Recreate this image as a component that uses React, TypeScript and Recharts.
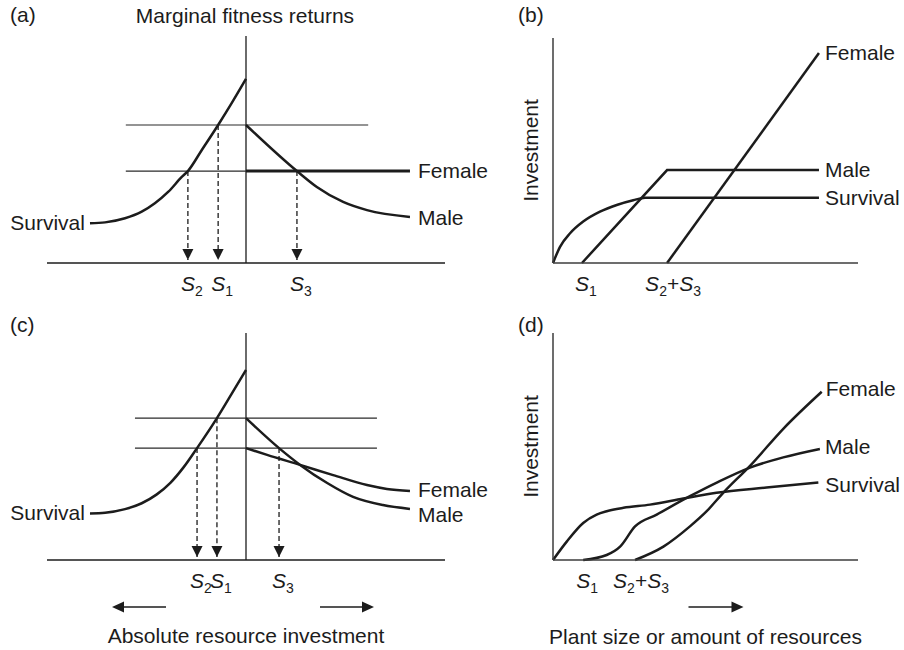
import React from 'react'
import { LineChart, Line, XAxis, YAxis, ReferenceLine } from 'recharts'

type Pt = { x: number; y: number }

const INK = '#1c1c1c'
const AXIS = '#3c3c3c'
const FONT = '"Liberation Sans", Arial, Helvetica, sans-serif'

// (a) marginal fitness returns, female returns constant
const aSurvival: Pt[] = [
  { x: 10.8, y: 17.5 }, { x: 14.6, y: 17.9 }, { x: 19.6, y: 19.7 }, { x: 23.8, y: 22.6 },
  { x: 27.1, y: 26.3 }, { x: 30.5, y: 31.4 }, { x: 33.8, y: 37.8 }, { x: 35.4, y: 40.5 },
  { x: 38.9, y: 49.8 }, { x: 43.0, y: 60.8 }, { x: 46.4, y: 70.4 }, { x: 50, y: 81.1 },
]
const aMale: Pt[] = [
  { x: 50, y: 60.8 }, { x: 62.8, y: 40.5 }, { x: 67.8, y: 33.5 }, { x: 74.4, y: 26.9 },
  { x: 80.4, y: 23.3 }, { x: 91.2, y: 20.3 },
]
const aFemale: Pt[] = [{ x: 50, y: 40.5 }, { x: 91.2, y: 40.5 }]
const aUpper: Pt[] = [{ x: 19.8, y: 60.8 }, { x: 80.7, y: 60.8 }]
const aLower: Pt[] = [{ x: 19.8, y: 40.5 }, { x: 80.7, y: 40.5 }]
const aDropS2: Pt[] = [{ x: 35.4, y: 40.5 }, { x: 35.4, y: 1.3 }]
const aDropS1: Pt[] = [{ x: 43.0, y: 60.8 }, { x: 43.0, y: 1.3 }]
const aDropS3: Pt[] = [{ x: 62.8, y: 40.5 }, { x: 62.8, y: 1.3 }]
const aTicks = [35.4, 43.0, 62.8]
const aTickLabels = ['S_2', 'S_1', 'S_3']

// (b) investment against plant size, linear case
const bSurvival: Pt[] = [
  { x: 0, y: 0 }, { x: 2.3, y: 7.2 }, { x: 5.6, y: 13.2 }, { x: 9.9, y: 18.4 },
  { x: 15.4, y: 22.8 }, { x: 20.9, y: 25.8 }, { x: 26.3, y: 27.9 }, { x: 30.2, y: 29.0 },
  { x: 87.2, y: 29.0 },
]
const bMale: Pt[] = [{ x: 9.5, y: 0 }, { x: 37.4, y: 41.3 }, { x: 87.2, y: 41.3 }]
const bFemale: Pt[] = [{ x: 37.4, y: 0 }, { x: 87.2, y: 93.3 }]
const bTicks = [9.5, 37.4]
const bTickLabels = ['S_1', 'S_2+S_3']

// (c) marginal fitness returns, both sexes decelerating
const cSurvival: Pt[] = [
  { x: 10.8, y: 20.5 }, { x: 14.6, y: 20.8 }, { x: 19.6, y: 22.4 }, { x: 23.8, y: 25.0 },
  { x: 27.5, y: 28.8 }, { x: 31.0, y: 34.0 }, { x: 34.3, y: 40.8 }, { x: 37.7, y: 49.3 },
  { x: 42.7, y: 62.5 }, { x: 46.5, y: 73.5 }, { x: 50, y: 83.7 },
]
const cMale: Pt[] = [
  { x: 50, y: 62.5 }, { x: 58.3, y: 49.3 }, { x: 63.6, y: 41.9 }, { x: 70.4, y: 33.9 },
  { x: 76.9, y: 27.8 }, { x: 84.4, y: 24.2 }, { x: 91.2, y: 22.5 },
]
const cFemale: Pt[] = [
  { x: 50, y: 49.3 }, { x: 55.3, y: 46.3 }, { x: 63.6, y: 41.9 }, { x: 71.9, y: 37.4 },
  { x: 80.4, y: 33.0 }, { x: 85.4, y: 31.3 }, { x: 91.2, y: 30.4 },
]
const cUpper: Pt[] = [{ x: 22.1, y: 62.5 }, { x: 82.9, y: 62.5 }]
const cLower: Pt[] = [{ x: 22.1, y: 49.3 }, { x: 82.9, y: 49.3 }]
const cDropS2: Pt[] = [{ x: 37.7, y: 49.3 }, { x: 37.7, y: 1.3 }]
const cDropS1: Pt[] = [{ x: 42.7, y: 62.5 }, { x: 42.7, y: 1.3 }]
const cDropS3: Pt[] = [{ x: 58.3, y: 49.3 }, { x: 58.3, y: 1.3 }]
const cTicks = [37.7, 42.7, 58.3]
const cTickLabels = ['S_2', 'S_1', 'S_3']

// (d) investment against plant size, curved case
const dSurvival: Pt[] = [
  { x: 0, y: 0 }, { x: 4.5, y: 8.1 }, { x: 9.9, y: 16.3 }, { x: 14.3, y: 20 },
  { x: 17.6, y: 21.5 }, { x: 23.1, y: 23 }, { x: 31.8, y: 24.4 }, { x: 42.7, y: 27.1 },
  { x: 53.6, y: 29.6 }, { x: 70, y: 31.9 }, { x: 87, y: 34.1 },
]
const dMale: Pt[] = [
  { x: 9.9, y: 0 }, { x: 17.6, y: 2.2 }, { x: 22, y: 5.9 }, { x: 26.9, y: 14.8 },
  { x: 34, y: 20 }, { x: 44.9, y: 28.1 }, { x: 53.7, y: 34.1 }, { x: 64.6, y: 40.7 },
  { x: 75.5, y: 45.2 }, { x: 87.5, y: 48.9 },
]
const dFemale: Pt[] = [
  { x: 26.9, y: 0 }, { x: 36.2, y: 5.9 }, { x: 44.9, y: 14.8 }, { x: 50.4, y: 21.5 },
  { x: 55.8, y: 29.6 }, { x: 64.6, y: 41.5 }, { x: 75.5, y: 57.8 }, { x: 88.1, y: 74.1 },
]
const dTicks = [9.9, 26.9]
const dTickLabels = ['S_1', 'S_2+S_3']

type Series = {
  data: Pt[]
  width: number
  curve?: 'monotone' | 'linear'
  dash?: string
  color?: string
  name?: string
  at?: 'first' | 'last'
  dx?: number
  dy?: number
  arrow?: boolean
}

// renders the series name next to an end point, or an arrowhead on drop lines
const makeDot = (s: Series) => (p: any) => {
  const { cx, cy, index } = p
  const last = s.data.length - 1
  if (s.arrow && index === last) {
    return (
      <polygon
        key={`ar-${index}`}
        points={`${cx},${cy} ${cx - 5.5},${cy - 11} ${cx + 5.5},${cy - 11}`}
        fill={INK}
      />
    )
  }
  if (s.name && index === (s.at === 'first' ? 0 : last)) {
    return (
      <text
        key={`nm-${index}`}
        x={cx + (s.dx ?? 0)}
        y={cy + (s.dy ?? 7)}
        textAnchor={s.at === 'first' ? 'end' : 'start'}
        fontFamily={FONT}
        fontSize={21}
        fill={INK}
      >
        {s.name}
      </text>
    )
  }
  return <g key={`d-${index}`} />
}

// "S_2+S_3" -> italic S with upright subscripts
function SubLabel({ x, y, label }: { x: number; y: number; label: string }) {
  const parts = label.split(/(S_\d)/).filter(Boolean)
  const single = parts.length === 1
  const spans: React.ReactNode[] = []
  let lowered = false
  parts.forEach((part, i) => {
    if (part.startsWith('S_')) {
      spans.push(
        <tspan key={`s${i}`} fontStyle="italic" dy={lowered ? -5 : 0}>S</tspan>,
        <tspan key={`n${i}`} fontSize={14} dy={5}>{part.slice(2)}</tspan>,
      )
      lowered = true
    } else {
      spans.push(<tspan key={`t${i}`} dy={lowered ? -5 : 0}>{part}</tspan>)
      lowered = false
    }
  })
  return (
    <text
      x={single ? x - 7 : x + 6}
      y={y}
      textAnchor={single ? 'start' : 'middle'}
      fontFamily={FONT}
      fontSize={21}
      fill={INK}
    >
      {spans}
    </text>
  )
}

const makeTick = (labels: string[]) => (p: any) => (
  <SubLabel key={`tk-${p.index}`} x={p.x} y={p.y + 20} label={labels[p.index] ?? ''} />
)

function InvestmentLabel(props: any) {
  const vb = props.viewBox || { x: 0, y: 0, width: 0, height: 0 }
  const cx = vb.x + vb.width - 23
  const cy = vb.y + vb.height / 2
  return (
    <text
      x={cx}
      y={cy}
      transform={`rotate(-90 ${cx} ${cy})`}
      textAnchor="middle"
      dominantBaseline="central"
      fontFamily={FONT}
      fontSize={21}
      fill={INK}
    >
      Investment
    </text>
  )
}

function Arrow({ x1, x2, y }: { x1: number; x2: number; y: number }) {
  const dir = x2 > x1 ? 1 : -1
  return (
    <g>
      <line x1={x1} y1={y} x2={x2 - dir * 10} y2={y} stroke={INK} strokeWidth={1.6} />
      <polygon points={`${x2},${y} ${x2 - dir * 12},${y - 5.5} ${x2 - dir * 12},${y + 5.5}`} fill={INK} />
    </g>
  )
}

// text and direction arrows under the resource axis
function ResourceNote(props: any) {
  const vb = props.viewBox || { x: 0, y: 0, width: 0, height: 0 }
  const mid = vb.x + vb.width / 2
  return (
    <g>
      <Arrow x1={vb.x + 119} x2={vb.x + 65} y={vb.y + 47} />
      <Arrow x1={vb.x + 273} x2={vb.x + 327} y={vb.y + 47} />
      <text x={mid} y={vb.y + 83} textAnchor="middle" fontFamily={FONT} fontSize={21} fill={INK}>
        Absolute resource investment
      </text>
    </g>
  )
}

function SizeNote(props: any) {
  const vb = props.viewBox || { x: 0, y: 0, width: 0, height: 0 }
  const mid = vb.x + vb.width / 2
  return (
    <g>
      <Arrow x1={mid - 17} x2={mid + 38} y={vb.y + 47} />
      <text x={mid} y={vb.y + 84} textAnchor="middle" fontFamily={FONT} fontSize={21} fill={INK}>
        Plant size or amount of resources
      </text>
    </g>
  )
}

type PanelProps = {
  left: number
  top: number
  width: number
  height: number
  margin: { top: number; right: number; bottom: number; left: number }
  series: Series[]
  ticks: number[]
  tickLabels: string[]
  investment?: boolean
  split?: boolean
  note?: React.ReactElement
  axisColor: string
}

function Panel(p: PanelProps) {
  return (
    <div style={{ position: 'absolute', left: p.left, top: p.top }}>
      <LineChart width={p.width} height={p.height} margin={p.margin}>
        <XAxis
          type="number"
          dataKey="x"
          domain={[0, 100]}
          ticks={p.ticks}
          interval={0}
          tickLine={false}
          height={30}
          axisLine={{ stroke: p.axisColor, strokeWidth: 1.5 }}
          tick={makeTick(p.tickLabels)}
          label={p.note}
        />
        <YAxis
          type="number"
          domain={[0, 100]}
          hide={!p.investment}
          width={60}
          tick={false}
          tickLine={false}
          axisLine={{ stroke: p.axisColor, strokeWidth: 1.5 }}
          label={p.investment ? <InvestmentLabel /> : undefined}
        />
        {p.split && <ReferenceLine x={50} stroke={INK} strokeWidth={1.3} />}
        {p.series.map((s, i) => (
          <Line
            key={i}
            data={s.data}
            dataKey="y"
            type={s.curve ?? 'monotone'}
            stroke={s.color ?? INK}
            strokeWidth={s.width}
            strokeDasharray={s.dash}
            dot={makeDot(s)}
            activeDot={false}
            legendType="none"
            isAnimationActive={false}
          />
        ))}
      </LineChart>
    </div>
  )
}

const guide = (data: Pt[]): Series => ({ data, width: 1.2, curve: 'linear', color: '#2a2a2a' })
const drop = (data: Pt[]): Series => ({ data, width: 1.3, curve: 'linear', dash: '5 3', arrow: true })

export default function App() {
  return (
    <div
      style={{
        position: 'absolute',
        left: 0,
        top: 0,
        width: 904,
        height: 650,
        background: '#fff',
        overflow: 'hidden',
      }}
    >
      <svg width={904} height={650} style={{ position: 'absolute', left: 0, top: 0 }}>
        <g fontFamily={FONT} fontSize={21} fill={INK}>
          <text x={10} y={22}>(a)</text>
          <text x={245} y={23} textAnchor="middle">Marginal fitness returns</text>
          <text x={518} y={22}>(b)</text>
          <text x={10} y={332}>(c)</text>
          <text x={518} y={332}>(d)</text>
        </g>
      </svg>

      <Panel
        left={0}
        top={0}
        width={500}
        height={320}
        margin={{ top: 36, right: 55, bottom: 27, left: 47 }}
        split
        axisColor={INK}
        ticks={aTicks}
        tickLabels={aTickLabels}
        series={[
          guide(aUpper),
          guide(aLower),
          drop(aDropS2),
          drop(aDropS1),
          drop(aDropS3),
          { data: aFemale, width: 3, curve: 'linear', name: 'Female', dx: 8, dy: 7 },
          { data: aMale, width: 2.5, name: 'Male', dx: 8, dy: 8 },
          { data: aSurvival, width: 2.5, name: 'Survival', at: 'first', dx: -5, dy: 7 },
        ]}
      />

      <Panel
        left={452}
        top={0}
        width={452}
        height={320}
        margin={{ top: 38, right: 46, bottom: 27, left: 41 }}
        investment
        axisColor={AXIS}
        ticks={bTicks}
        tickLabels={bTickLabels}
        series={[
          { data: bSurvival, width: 2.5, name: 'Survival', dx: 6, dy: 7 },
          { data: bMale, width: 2.5, curve: 'linear', name: 'Male', dx: 6, dy: 7 },
          { data: bFemale, width: 2.5, curve: 'linear', name: 'Female', dx: 6, dy: 7 },
        ]}
      />

      <Panel
        left={0}
        top={300}
        width={500}
        height={350}
        margin={{ top: 33, right: 55, bottom: 60, left: 47 }}
        split
        axisColor={INK}
        ticks={cTicks}
        tickLabels={cTickLabels}
        note={<ResourceNote />}
        series={[
          guide(cUpper),
          guide(cLower),
          drop(cDropS2),
          drop(cDropS1),
          drop(cDropS3),
          { data: cFemale, width: 2.5, name: 'Female', dx: 8, dy: 6 },
          { data: cMale, width: 2.5, name: 'Male', dx: 8, dy: 13 },
          { data: cSurvival, width: 2.5, name: 'Survival', at: 'first', dx: -5, dy: 7 },
        ]}
      />

      <Panel
        left={452}
        top={300}
        width={452}
        height={350}
        margin={{ top: 33, right: 46, bottom: 60, left: 41 }}
        investment
        axisColor={AXIS}
        ticks={dTicks}
        tickLabels={dTickLabels}
        note={<SizeNote />}
        series={[
          { data: dSurvival, width: 2.5, name: 'Survival', dx: 7, dy: 9 },
          { data: dMale, width: 2.5, name: 'Male', dx: 5, dy: 5 },
          { data: dFemale, width: 2.5, name: 'Female', dx: 4, dy: 4 },
        ]}
      />
    </div>
  )
}
